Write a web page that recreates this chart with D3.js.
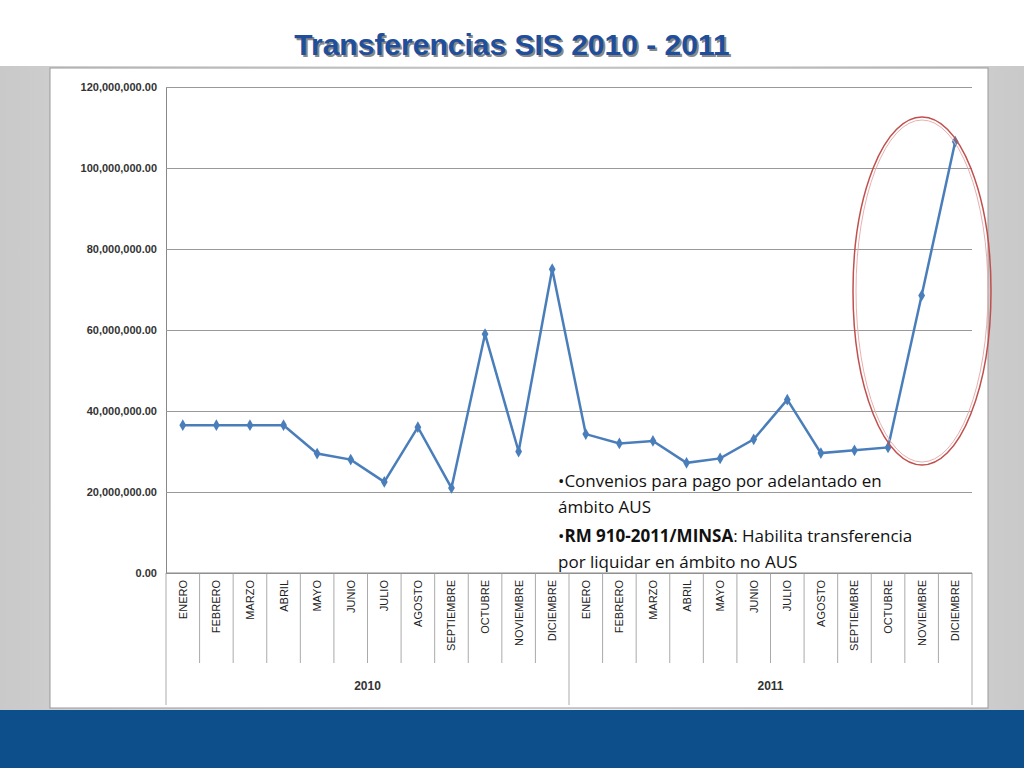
<!DOCTYPE html>
<html><head><meta charset="utf-8">
<script src="https://cdn.jsdelivr.net/npm/d3@7"></script>
<style>body{margin:0}svg{display:block}</style>
</head><body>
<svg width="1024" height="768"></svg>
<script>
const months = ["ENERO","FEBRERO","MARZO","ABRIL","MAYO","JUNIO","JULIO","AGOSTO","SEPTIEMBRE","OCTUBRE","NOVIEMBRE","DICIEMBRE"];
const years = ["2010", "2011"];
const values = [36.5,36.5,36.5,36.5,29.5,28,22.5,36,21,59,30,75,
                34.3,32,32.6,27.2,28.3,33,42.8,29.6,30.3,31,68.5,106.5].map(v => v * 1e6);
const yTicks = [0, 20e6, 40e6, 60e6, 80e6, 100e6, 120e6];
const noteLines = [
  [["•Convenios para pago por adelantado en", false]],
  [["ámbito AUS", false]],
  [["•", false], ["RM 910-2011/MINSA", true], [": Habilita transferencia", false]],
  [["por liquidar  en ámbito no AUS", false]]
];

const svg = d3.select("svg");
const defs = svg.append("defs");
const bg = defs.append("linearGradient").attr("id", "bg");
bg.append("stop").attr("offset", 0).attr("stop-color", "#c9c9c9");
bg.append("stop").attr("offset", 0.5).attr("stop-color", "#f2f2f2");
bg.append("stop").attr("offset", 1).attr("stop-color", "#c9c9c9");

svg.append("rect").attr("width", 1024).attr("height", 768).attr("fill", "url(#bg)");
svg.append("rect").attr("width", 1024).attr("height", 66).attr("fill", "#fff");
svg.append("rect").attr("y", 710).attr("width", 1024).attr("height", 58).attr("fill", "#0d4f8b");
svg.append("rect").attr("x", 50).attr("y", 68).attr("width", 938).attr("height", 640)
  .attr("fill", "#fff").attr("stroke", "#999");

svg.append("text").attr("x", 514).attr("y", 57).attr("text-anchor", "middle")
  .attr("font-family", "Liberation Sans, Arial").attr("font-weight", "bold").attr("font-size", 30)
  .attr("fill", "#888").text("Transferencias SIS 2010 - 2011");
svg.append("text").attr("x", 512).attr("y", 55).attr("text-anchor", "middle")
  .attr("font-family", "Liberation Sans, Arial").attr("font-weight", "bold").attr("font-size", 30)
  .attr("fill", "#1f4e9c").text("Transferencias SIS 2010 - 2011");

const plotL = 166, plotR = 972, plotT = 87, plotB = 573;
const labels = values.map((_, i) => i);
const x = d3.scaleBand().domain(labels).range([plotL, plotR]);
const y = d3.scaleLinear().domain([0, 120e6]).range([plotB, plotT]);

const g = svg.append("g").attr("font-family", "Liberation Sans, Arial");
const yAxis = g.append("g").attr("transform", `translate(${plotL},0)`)
  .call(d3.axisLeft(y).tickValues(yTicks).tickSize(-(plotR - plotL))
    .tickFormat(d => d3.format(",.2f")(d)));
yAxis.select(".domain").attr("stroke", "#888");
yAxis.selectAll(".tick line").attr("stroke", "#999");
yAxis.selectAll(".tick text").attr("font-size", 11).attr("font-weight", "bold")
  .attr("fill", "#333").attr("x", -9);

// category lines
labels.concat([24]).forEach(i => {
  const xx = i === 24 ? plotR : x(i);
  const yearEdge = i % 12 === 0 || i === 24;
  g.append("line").attr("x1", xx).attr("x2", xx).attr("y1", plotB)
    .attr("y2", yearEdge ? 705 : 663).attr("stroke", "#aaa");
});
g.append("line").attr("x1", plotL).attr("x2", plotR).attr("y1", plotB).attr("y2", plotB).attr("stroke", "#888");
labels.forEach(i => {
  const cx = x(i) + x.bandwidth() / 2;
  g.append("text").attr("transform", `translate(${cx + 4},580) rotate(-90)`)
    .attr("text-anchor", "end").attr("font-size", 11).attr("fill", "#222")
    .text(months[i % 12]);
});
years.forEach((yr, k) => {
  g.append("text").attr("x", (x(k * 12) + (k ? plotR : x(12))) / 2).attr("y", 690)
    .attr("text-anchor", "middle").attr("font-size", 12).attr("font-weight", "bold")
    .attr("fill", "#333").text(yr);
});

const line = d3.line().x((d, i) => x(i) + x.bandwidth() / 2).y(d => y(d));
g.append("path").datum(values).attr("d", line).attr("fill", "none")
  .attr("stroke", "#4a7ebb").attr("stroke-width", 2.5);
g.selectAll(".pt").data(values).join("path").attr("class", "pt")
  .attr("d", d3.symbol(d3.symbolDiamond, 40))
  .attr("transform", (d, i) => `translate(${x(i) + x.bandwidth() / 2},${y(d)})`)
  .attr("fill", "#4a7ebb");

svg.append("ellipse").attr("cx", 922).attr("cy", 291).attr("rx", 69).attr("ry", 174)
  .attr("fill", "none").attr("stroke", "#c0504d").attr("stroke-width", 1.5);
svg.append("ellipse").attr("cx", 922).attr("cy", 291).attr("rx", 66).attr("ry", 171)
  .attr("fill", "none").attr("stroke", "#e8b0b0").attr("stroke-width", 1);

const note = svg.append("text").attr("font-family", "Open Sans, Noto Sans").attr("font-size", 17).attr("fill", "#111");
const lineY = [487, 513, 542, 568];
noteLines.forEach((parts, i) => {
  parts.forEach(([s, b], j) => {
    const t = note.append("tspan").attr("font-weight", b ? "bold" : "normal").text(s);
    if (j === 0) t.attr("x", 558).attr("y", lineY[i]);
  });
});
</script>
</body></html>
